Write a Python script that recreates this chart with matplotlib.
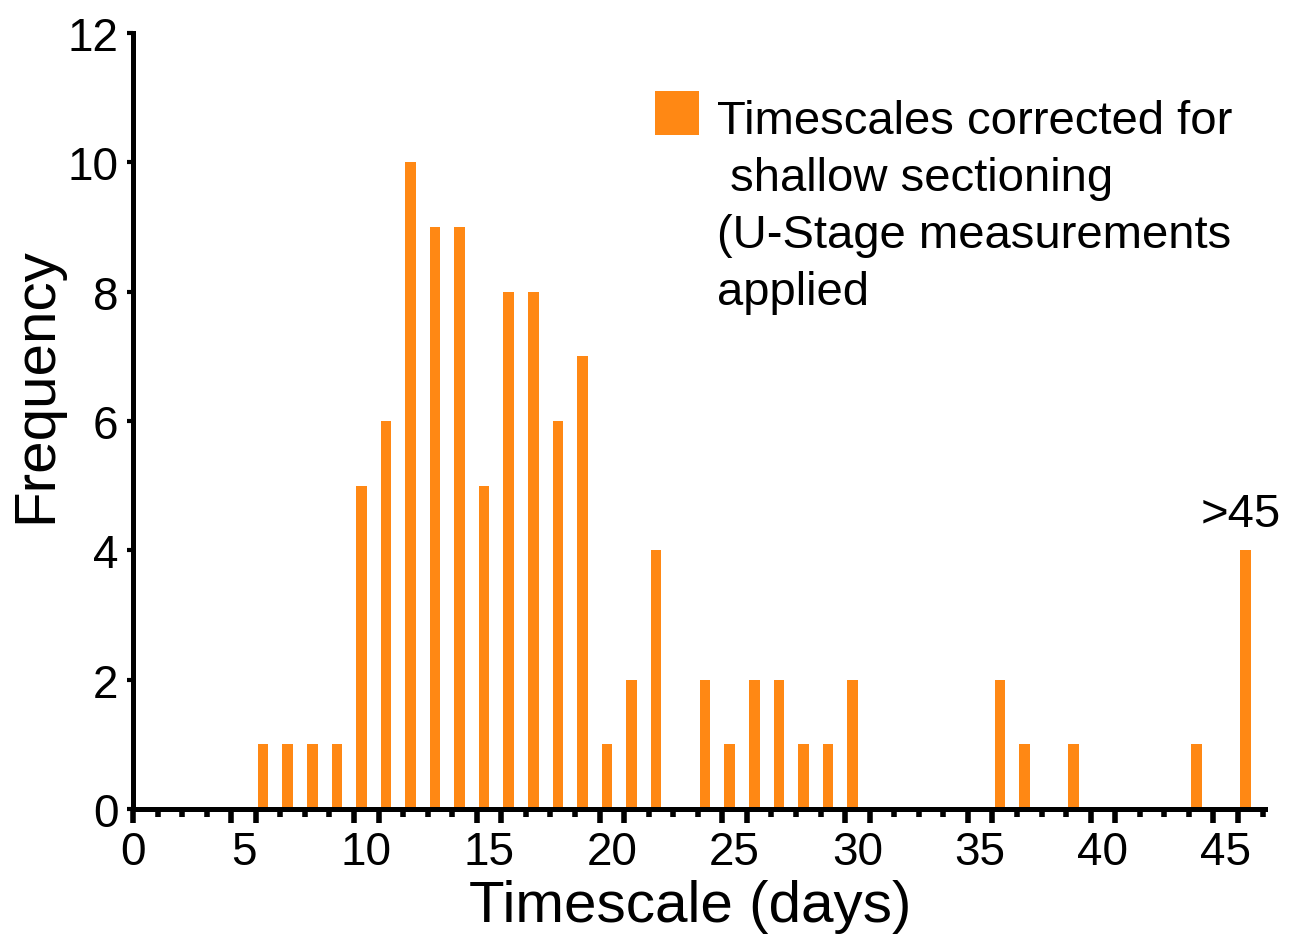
import matplotlib
matplotlib.use("Agg")
import matplotlib.pyplot as plt
from matplotlib.patches import Rectangle

# ---- data ----
bin_days = [5, 6, 7, 8, 9, 10, 11, 12, 13, 14, 15, 16, 17, 18, 19, 20, 21,
            23, 24, 25, 26, 27, 28, 29, 35, 36, 38, 43, 45]
counts = [1, 1, 1, 1, 5, 6, 10, 9, 9, 5, 8, 8, 6, 7, 1, 2, 4,
          2, 1, 2, 2, 1, 1, 2, 2, 1, 1, 1, 4]
x_tick_values = [0, 5, 10, 15, 20, 25, 30, 35, 40, 45]
x_tick_labels = ["0", "5", "10", "15", "20", "25", "30", "35", "40", "45"]
y_ticks = [0, 2, 4, 6, 8, 10, 12]
legend_lines = ["Timescales corrected for", " shallow sectioning",
                "(U-Stage measurements", "applied"]
overflow_label = ">45"
x_title = "Timescale (days)"
y_title = "Frequency"

color = "#FF8814"
plt.rcParams['font.family'] = ['Liberation Sans', 'DejaVu Sans']

W, H = 1296, 937
fig = plt.figure(figsize=(W / 100, H / 100), dpi=100)
ax = fig.add_axes([133 / W, 1 - 810 / H, 1132 / W, 776 / H])

bar_offset = 0.3
xs = [b + bar_offset for b in bin_days]
ax.bar(xs, counts, width=0.43, color=color, edgecolor='none', zorder=2)

ax.set_xlim(0, 46.1)
ax.set_ylim(0, 12)

for s in ['top', 'right']:
    ax.spines[s].set_visible(False)
for s in ['left', 'bottom']:
    ax.spines[s].set_linewidth(3.6)
    ax.spines[s].set_capstyle('projecting')

# tick marks: long ticks flanking each label, short ticks at every day
long_ticks = [0] + [v + d for v in x_tick_values[1:] for d in (-1, 0)]
ax.set_xticks(long_ticks)
ax.set_xticklabels([])
ax.set_xticks(range(0, 47), minor=True)
ax.tick_params(axis='x', which='major', length=10, width=4, direction='out')
ax.tick_params(axis='x', which='minor', length=6, width=4, direction='out')

ax.set_yticks(y_ticks)
ax.set_yticklabels([str(v) for v in y_ticks])
ax.tick_params(axis='y', which='major', length=4.5, width=3, pad=6,
               labelsize=33)

# tick labels sit between the paired long ticks
label_pos = [v - 0.5 if v else 0.0 for v in x_tick_values]
sec = ax.secondary_xaxis('bottom')
sec.set_xticks(label_pos)
sec.set_xticklabels(x_tick_labels)
sec.tick_params(axis='x', length=0, pad=15, labelsize=33)
sec.spines['bottom'].set_visible(False)

ax.set_xlabel(x_title, fontsize=42)
ax.xaxis.set_label_coords(0.492, -0.09)
ax.set_ylabel(y_title, fontsize=42)
ax.yaxis.set_label_coords(-0.062, 0.548)

ax.annotate(overflow_label, xy=(xs[-1], counts[-1]), xytext=(-3, 10),
            textcoords='offset points', ha='center', va='bottom',
            fontsize=34)

# legend (patch aligned with first line)
fig.patches.append(Rectangle((655 / W, 1 - 136 / H), 44 / W, 44 / H,
                             transform=fig.transFigure, facecolor=color,
                             edgecolor='none'))
baselines = [134, 191, 248, 305]
for line, yb in zip(legend_lines, baselines):
    fig.text(717 / W, 1 - yb / H, line, fontsize=34, ha='left',
             va='baseline')

fig.savefig("out.png", dpi=100)
